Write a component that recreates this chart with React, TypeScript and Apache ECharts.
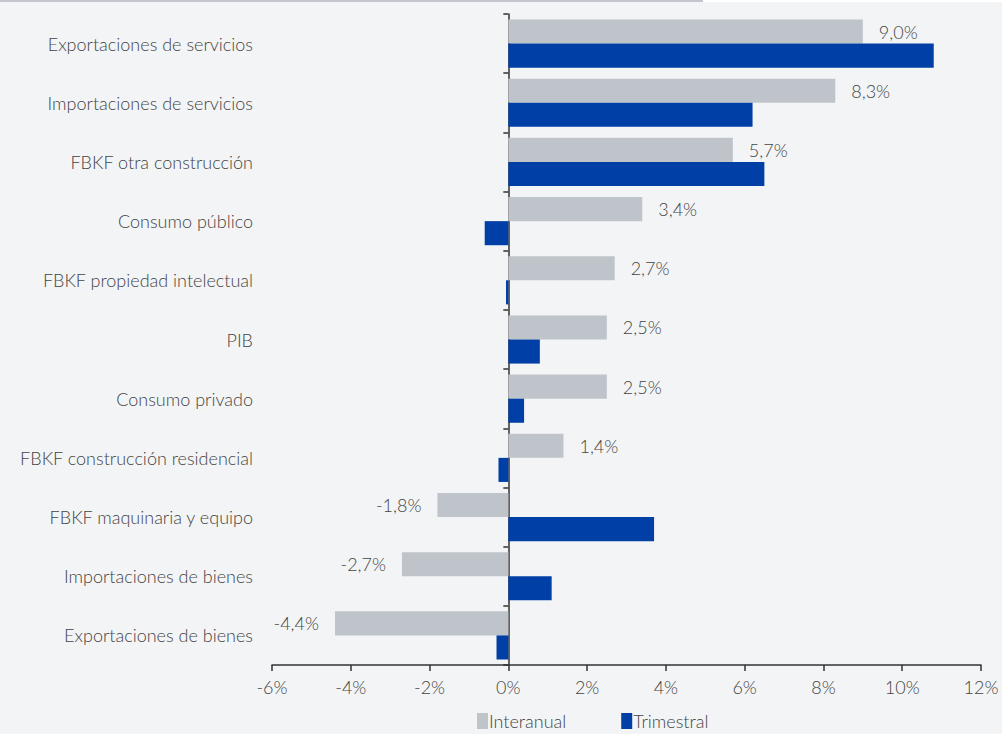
import React, { useEffect, useRef } from "react";
import * as echarts from "echarts";

const categories = [
  "Exportaciones de servicios",
  "Importaciones de servicios",
  "FBKF otra construcción",
  "Consumo público",
  "FBKF propiedad intelectual",
  "PIB",
  "Consumo privado",
  "FBKF construcción residencial",
  "FBKF maquinaria y equipo",
  "Importaciones de bienes",
  "Exportaciones de bienes",
];
const interanual = [9.0, 8.3, 5.7, 3.4, 2.7, 2.5, 2.5, 1.4, -1.8, -2.7, -4.4];
const trimestral = [10.8, 6.2, 6.5, -0.6, -0.06, 0.8, 0.4, -0.25, 3.7, 1.1, -0.3];
const xTicks = { min: -6, max: 12, interval: 2 };
const seriesNames = ["Interanual", "Trimestral"];

const FONT = "Lato";
const TEXT = "#444444";

export default function App() {
  const ref = useRef<HTMLDivElement>(null);
  useEffect(() => {
    if (!ref.current) return;
    const chart = echarts.init(ref.current, undefined, { renderer: "svg" });
    const fmt = (v: number) => v.toFixed(1).replace(".", ",") + "%";
    chart.setOption({
      animation: false,
      backgroundColor: "#f3f4f6",
      textStyle: { fontFamily: FONT },
      graphic: [
        { type: "line", shape: { x1: 0, y1: 1, x2: 703, y2: 1 }, style: { stroke: "#c3c7cd", lineWidth: 2 } },
        { type: "line", shape: { x1: 703, y1: 1, x2: 1002, y2: 1 }, style: { stroke: "#ffffff", lineWidth: 2 } },
      ],
      grid: { left: 272, right: 21, top: 14, bottom: 69 },
      legend: {
        left: 477,
        bottom: 4,
        padding: 0,
        itemWidth: 11,
        itemHeight: 16,
        itemGap: 55,
        icon: "rect",
        textStyle: { fontFamily: FONT, fontSize: 18, color: TEXT, fontWeight: 300, padding: [0, 0, 0, -4] },
        data: seriesNames,
      },
      xAxis: {
        type: "value",
        min: xTicks.min,
        max: xTicks.max,
        interval: xTicks.interval,
        splitLine: { show: false },
        axisLine: { show: true, lineStyle: { color: "#333333", width: 1.5 } },
        axisTick: { show: true, length: 6, lineStyle: { color: "#333333", width: 1.5 } },
        axisLabel: {
          color: TEXT,
          fontSize: 18,
          fontWeight: 300,
          fontFamily: FONT,
          margin: 13,
          formatter: (v: number) => v + "%",
        },
      },
      yAxis: [
        {
          type: "category",
          data: categories,
          inverse: true,
          axisLine: { show: false, onZero: false },
          axisTick: { show: false },
          axisLabel: { color: TEXT, fontSize: 18, fontWeight: 300, fontFamily: FONT, margin: 19, padding: [0, 0, 3, 0] },
        },
        {
          type: "category",
          data: categories,
          inverse: true,
          position: "left",
          axisLine: { show: true, onZero: true, lineStyle: { color: "#333333", width: 1.5 } },
          axisTick: { show: true, length: 5, lineStyle: { color: "#333333", width: 1.5 } },
          axisLabel: { show: false },
        },
      ],
      series: [
        {
          name: seriesNames[0],
          type: "bar",
          yAxisIndex: 0,
          barGap: "0%",
          barCategoryGap: "18.6%",
          itemStyle: { color: "#bec4ca" },
          data: interanual.map((v) => ({
            value: v,
            label: {
              show: true,
              position: v >= 0 ? "right" : "left",
              distance: 16,
              formatter: () => fmt(v),
              color: TEXT,
              fontSize: 18,
              fontWeight: 300,
              fontFamily: FONT,
            },
          })),
        },
        {
          name: seriesNames[1],
          type: "bar",
          yAxisIndex: 0,
          barGap: "0%",
          barCategoryGap: "18.6%",
          itemStyle: { color: "#0040a6" },
          data: trimestral,
        },
      ],
    });
    return () => chart.dispose();
  }, []);
  return (
    <div
      ref={ref}
      style={{ position: "absolute", left: 0, top: 0, width: 1002, height: 734 }}
    />
  );
}
